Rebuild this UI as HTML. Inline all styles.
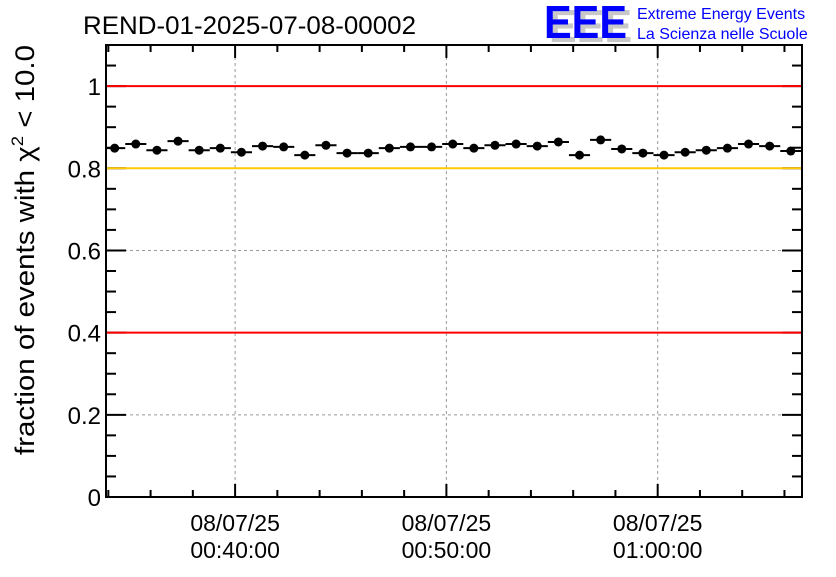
<!DOCTYPE html>
<html><head><meta charset="utf-8"><style>
body{margin:0;background:#fff;width:836px;height:572px;overflow:hidden}
svg{font-family:"Liberation Sans",sans-serif}
</style></head><body>
<svg id="chart" width="836" height="572" viewBox="0 0 836 572" xmlns="http://www.w3.org/2000/svg">
<rect width="836" height="572" fill="#fff"/>
<text x="83" y="34" font-size="25" textLength="333" lengthAdjust="spacingAndGlyphs">REND-01-2025-07-08-00002</text>
<g>
<text x="549" y="42" font-size="46" font-weight="bold" fill="#c8c8c8" textLength="83" lengthAdjust="spacingAndGlyphs">EEE</text>
<text x="544" y="38" font-size="46" font-weight="bold" fill="#0000ff" textLength="83" lengthAdjust="spacingAndGlyphs">EEE</text>
<text x="637" y="19" font-size="16" fill="#0000ff">Extreme Energy Events</text>
<text x="637" y="39" font-size="16" fill="#0000ff">La Scienza nelle Scuole</text>
</g>
<g id="grid"></g>
<g id="axes"></g>
<g id="ref"></g>
<g id="marks"></g>
<text transform="translate(34,250) rotate(-90)" text-anchor="middle" font-size="27" textLength="410" lengthAdjust="spacingAndGlyphs">fraction of events with χ<tspan font-size="17" dy="-11">2</tspan><tspan dy="11"> &lt; 10.0</tspan></text>
</svg>
<script>
const minutes=[34.3,35.3,36.3,37.3,38.3,39.3,40.3,41.3,42.3,43.3,44.3,45.3,46.3,47.3,48.3,49.3,50.3,51.3,52.3,53.3,54.3,55.3,56.3,57.3,58.3,59.3,60.3,61.3,62.3,63.3,64.3,65.3,66.3];
const fractions=[0.849,0.859,0.844,0.866,0.844,0.849,0.839,0.854,0.852,0.832,0.856,0.837,0.837,0.849,0.852,0.852,0.859,0.849,0.856,0.859,0.854,0.864,0.832,0.869,0.847,0.837,0.832,0.839,0.844,0.849,0.859,0.854,0.842];
const yTicks=[0,0.2,0.4,0.6,0.8,1];
const yTickLabels=["0","0.2","0.4","0.6","0.8","1"];
const xTicks=[40,50,60];
const xTickLabels=[["08/07/25","00:40:00"],["08/07/25","00:50:00"],["08/07/25","01:00:00"]];
const refLines=[1.0,0.8,0.4];
const refColors=["#ff0000","#ffcc00","#ff0000"];

const L=106,R=802,T=45,B=497;
const xmin=33.89,xmax=66.83,ymin=0,ymax=1.1;
const X=v=>L+(v-xmin)/(xmax-xmin)*(R-L);
const Y=v=>B-(v-ymin)/(ymax-ymin)*(B-T);
const NS="http://www.w3.org/2000/svg";
function mk(tag,attrs,parent,txt){const e=document.createElementNS(NS,tag);for(const k in attrs)e.setAttribute(k,attrs[k]);if(txt!==undefined)e.textContent=txt;parent.appendChild(e);return e;}
const grid=document.getElementById('grid'),ref=document.getElementById('ref'),axes=document.getElementById('axes'),marks=document.getElementById('marks');
yTicks.forEach(v=>{if(v>0&&v<1){const g=mk('line',{x1:L,x2:R,y1:Y(v),y2:Y(v),stroke:'#999','stroke-dasharray':'3,3','stroke-width':1},grid);}});
xTicks.forEach(v=>{const g=mk('line',{x1:X(v),x2:X(v),y1:T,y2:B,stroke:'#999','stroke-dasharray':'3,3','stroke-width':1},grid);});
const fr=mk('rect',{x:L,y:T,width:R-L,height:B-T,fill:'none',stroke:'#000','stroke-width':2},axes);

for(let k=0;k<=22;k++){const v=k*0.05;const len=(k%4===0)?20:10;
 mk('line',{x1:L,x2:L+len,y1:Y(v),y2:Y(v),stroke:'#000','stroke-width':2},axes);
 mk('line',{x1:R,x2:R-len,y1:Y(v),y2:Y(v),stroke:'#000','stroke-width':2},axes);}
for(let m=34;m<=66;m+=2){const len=(m%10===0)?13:7;
 mk('line',{x1:X(m),x2:X(m),y1:B,y2:B-len,stroke:'#000','stroke-width':2},axes);
 mk('line',{x1:X(m),x2:X(m),y1:T,y2:T+len,stroke:'#000','stroke-width':2},axes);}
yTicks.forEach((v,i)=>{const t=mk('text',{x:L-5,y:Y(v)+9,'text-anchor':'end','font-size':24},axes,yTickLabels[i]);});
xTicks.forEach((v,i)=>{const t=mk('text',{x:X(v),y:531,'text-anchor':'middle','font-size':23},axes,xTickLabels[i][0]);
 const t2=mk('text',{x:X(v),y:558,'text-anchor':'middle','font-size':23},axes,xTickLabels[i][1]);});
refLines.forEach((v,i)=>{const l=mk('line',{x1:L+1,x2:R-1,y1:Y(v),y2:Y(v),stroke:refColors[i],'stroke-width':2},ref);});
minutes.forEach((m,i)=>{const cx=X(m),cy=Y(fractions[i]);
 const g=mk('g',{},marks);
 mk('line',{x1:Math.max(L,X(m-0.5)),x2:Math.min(R,X(m+0.5)),y1:cy,y2:cy,stroke:'#000','stroke-width':2},g);
 mk('circle',{cx:cx,cy:cy,r:4.5,fill:'#000'},g);});
</script>
</body></html>
